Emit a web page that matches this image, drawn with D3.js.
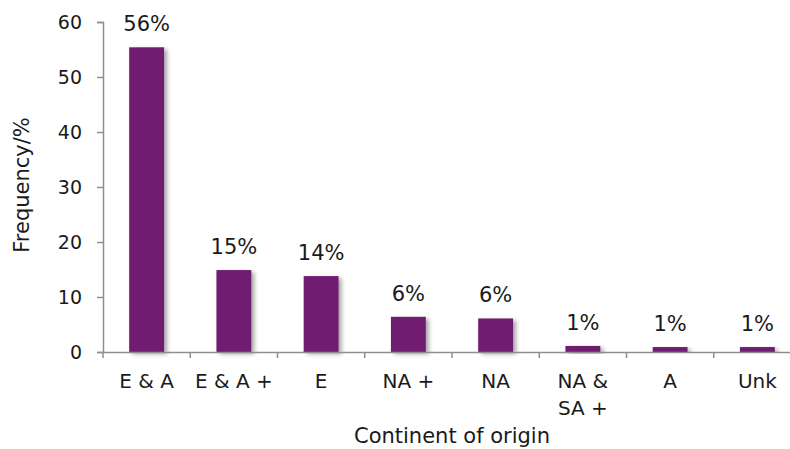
<!DOCTYPE html>
<html><head><meta charset="utf-8">
<script src="https://cdn.jsdelivr.net/npm/d3@7"></script>
<style>body{margin:0;background:#fff}svg{display:block}text{font-family:"DejaVu Sans",Verdana,sans-serif;fill:#1a1a1a}</style>
</head><body>
<svg id="c" width="790" height="449"></svg>
<script>
const categories = [["E & A"],["E & A +"],["E"],["NA +"],["NA"],["NA &","SA +"],["A"],["Unk"]];
const values = [55.4, 14.9, 13.8, 6.4, 6.1, 1.1, 0.9, 0.9];
const valueLabels = ["56%","15%","14%","6%","6%","1%","1%","1%"];
const yTicks = [0,10,20,30,40,50,60];
const xTitle = "Continent of origin";
const yTitle = "Frequency/%";

(function(){
const svg = d3.select("#c");
const mL = 103, mR = 801, mT = 22, mB = 352;
const x = d3.scaleBand().domain(d3.range(categories.length)).range([mL,mR]).padding(0);
const y = d3.scaleLinear().domain([0,60]).range([mB,mT]);
const axisColor = "#8e8e8e";

const defs = svg.append("defs");
const f = defs.append("filter").attr("id","sh").attr("x","-30%").attr("y","-10%").attr("width","170%").attr("height","130%");
f.append("feDropShadow").attr("dx",3).attr("dy",2).attr("stdDeviation",2).attr("flood-color","#000").attr("flood-opacity",0.35);

const bw = x.bandwidth()*0.4;
svg.append("g").selectAll("rect").data(values).join("rect")
  .attr("x",(d,i)=>x(i)+x.bandwidth()/2-bw/2)
  .attr("width",bw)
  .attr("y",d=>y(d))
  .attr("height",d=>y(0)-y(d))
  .attr("fill","#6f1e70")
  .attr("filter","url(#sh)");

svg.append("g").selectAll("text").data(values).join("text")
  .attr("x",(d,i)=>x(i)+x.bandwidth()/2)
  .attr("y",d=>y(d)-16)
  .attr("text-anchor","middle").attr("font-size",21)
  .text((d,i)=>valueLabels[i]);

const ya = svg.append("g").attr("transform",`translate(${mL},0)`)
  .call(d3.axisLeft(y).tickValues(yTicks).tickSize(6).tickPadding(15).tickFormat(d3.format("d")));
ya.select(".domain").attr("stroke",axisColor).attr("stroke-width",1.5);
ya.selectAll(".tick line").attr("stroke",axisColor).attr("stroke-width",1.5);
ya.selectAll(".tick text").attr("font-size",19).attr("font-family",'"DejaVu Sans",Verdana,sans-serif').attr("fill","#1a1a1a");

const xa = svg.append("g").attr("transform",`translate(0,${mB})`)
  .call(d3.axisBottom(x).tickSize(0).tickFormat(""));
xa.select(".domain").attr("stroke",axisColor).attr("stroke-width",1.5);
xa.selectAll(".tick").remove();
const edges = d3.range(categories.length+1).map(i=> i<categories.length ? x(i) : x(i-1)+x.step());
xa.selectAll("line.t").data(edges).join("line").attr("class","t")
  .attr("x1",d=>d).attr("x2",d=>d).attr("y1",0).attr("y2",6)
  .attr("stroke",axisColor).attr("stroke-width",1.5);

const xl = svg.append("g").selectAll("text").data(categories).join("text")
  .attr("x",(d,i)=>x(i)+x.bandwidth()/2)
  .attr("y",388).attr("text-anchor","middle").attr("font-size",20);
xl.each(function(d,i){
  const t=d3.select(this);
  d.forEach((s,j)=>t.append("tspan").attr("x",x(i)+x.bandwidth()/2).attr("dy",j?27:0).text(s));
});

svg.append("text").attr("x",(mL+mR)/2).attr("y",443).attr("text-anchor","middle").attr("font-size",21).text(xTitle);
svg.append("text").attr("transform",`translate(28.5,185) rotate(-90)`).attr("text-anchor","middle").attr("font-size",21).text(yTitle);
})();
</script>
</body></html>
